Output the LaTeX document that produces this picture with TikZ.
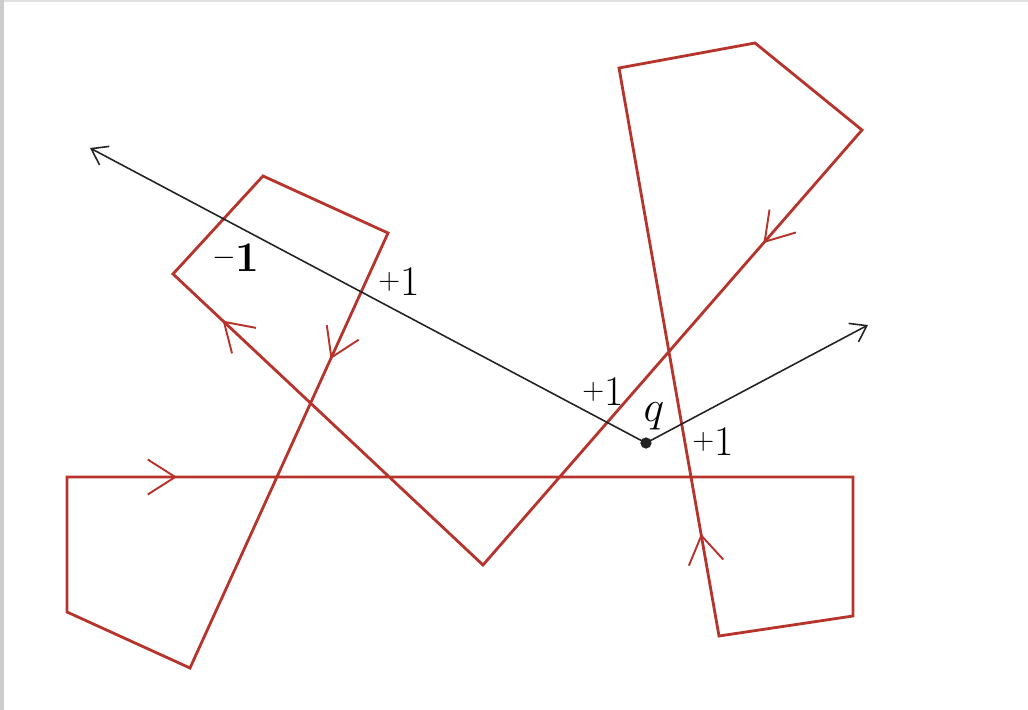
\documentclass[tikz,border=0pt]{standalone}
\usetikzlibrary{arrows.meta,decorations.markings}
\definecolor{windingRed}{RGB}{182,52,44}
\definecolor{windingRay}{RGB}{35,35,35}
\definecolor{windingFrame}{RGB}{205,205,205}
\newcommand{\countsign}[1]{\raisebox{3.5pt}{\fontsize{17}{19}\selectfont$#1$}}

\begin{document}
\begin{tikzpicture}[x=0.02cm,y=-0.02cm,
  boundary/.style={draw=windingRed,line width=1.6pt},
  ray/.style={-{Straight Barb[length=0.3cm,width=0.42cm]},windingRay,line width=0.9pt},
  flowmark/.style={postaction={decorate},decoration={markings,mark=at position #1 with {\arrow[windingRed,line width=1.1pt]{Straight Barb[length=0.55cm,width=0.7cm]}}}},
  count/.style={font=\fontsize{24}{28}\selectfont,inner sep=0pt}
]
  \useasboundingbox (0,0) rectangle (1028,710);
  \fill[windingFrame] (0,0) rectangle (4,710);
  \fill[windingFrame!60] (4,0) rectangle (1028,2);

  \coordinate (a) at (67,477);
  \coordinate (b) at (853,477);
  \coordinate (c) at (853,616);
  \coordinate (d) at (719,636);
  \coordinate (e) at (619,68);
  \coordinate (f) at (755,43);
  \coordinate (g) at (862,130);
  \coordinate (h) at (483,565);
  \coordinate (i) at (173,274);
  \coordinate (j) at (263,176);
  \coordinate (k) at (388,233);
  \coordinate (l) at (190,668);
  \coordinate (m) at (67,612);

  \draw[boundary] (a) -- (b) -- (c) -- (d) -- (e) -- (f) -- (g) -- (h) -- (i) -- (j) -- (k) -- (l) -- (m) -- cycle;
  \path[flowmark=0.14] (a) -- (b);
  \path[flowmark=0.18] (d) -- (e);
  \path[flowmark=0.26] (g) -- (h);
  \path[flowmark=0.84] (h) -- (i);
  \path[flowmark=0.29] (k) -- (l);

  \coordinate (farleft) at (90,148);
  \coordinate (farright) at (868,325);
  \fill[windingRay] (646,443) circle (3.2pt) coordinate (q);
  \draw[ray] (q) -- (farleft);
  \draw[ray] (q) -- (farright);

  \node[count] (qlabel) at (654,416) {$q$};
  \node[count] (minusone) at (236,258) {\countsign{-}\textbf{1}};
  \node[count] (plusone) at (399,282) {\countsign{+}1};
  \node[count] (plustwo) at (603,392) {\countsign{+}1};
  \node[count] (plusthree) at (713,442) {\countsign{+}1};
\end{tikzpicture}
\end{document}
